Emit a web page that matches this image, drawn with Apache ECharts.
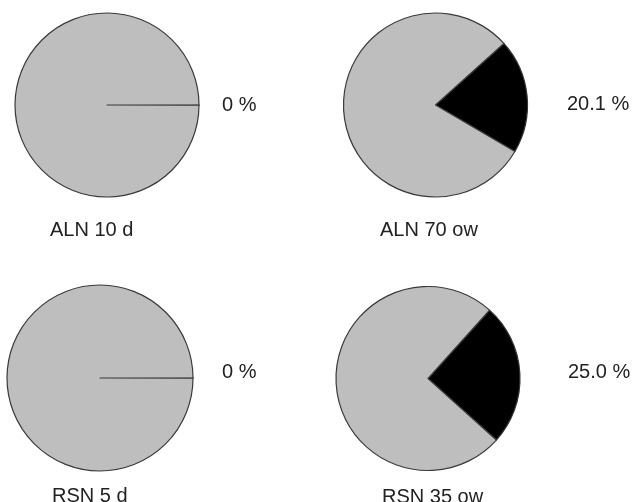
<!DOCTYPE html>
<html>
<head>
<meta charset="utf-8">
<script src="https://cdn.jsdelivr.net/npm/echarts@6/dist/echarts.min.js"></script>
<style>
html,body{margin:0;padding:0;background:#fff;}
#chart{width:635px;height:502px;}
</style>
</head>
<body>
<div id="chart"></div>
<script>
// Data
var groups = ["ALN 10 d", "ALN 70 ow", "RSN 5 d", "RSN 35 ow"];
var percentValues = [0, 20.1, 0, 25.0];
var percentLabels = ["0 %", "20.1 %", "0 %", "25.0 %"];

// Layout (positions/styles only)
var centers = [[107, 105], [435.5, 105], [100, 378], [428, 378.5]];
var radii = [92, 92, 93, 92];
var startAngles = [0, 42, 0, 48];
var groupLabelPos = [[50, 231], [380, 231], [52, 497], [382, 498]];
var pctLabelPos = [[222, 106], [567, 105], [222, 373], [568, 373]];

var FONT = "'Liberation Sans', Arial, sans-serif";
var series = [];
var graphics = [];
for (var i = 0; i < groups.length; i++) {
  series.push({
    type: 'pie',
    center: centers[i],
    radius: [0, radii[i]],
    startAngle: startAngles[i] + (percentValues[i] === 0 ? 0.15 : 0),
    minAngle: 0.3,
    clockwise: true,
    animation: false,
    silent: true,
    label: { show: false },
    labelLine: { show: false },
    emphasis: { disabled: true },
    itemStyle: { borderColor: '#3a3a3a', borderWidth: 1.2 },
    data: [
      { name: 'yes', value: percentValues[i], itemStyle: { color: '#000000', borderColor: '#333' } },
      { name: 'no', value: 100 - percentValues[i], itemStyle: { color: '#bebebe' } }
    ]
  });
  graphics.push({
    type: 'text', left: groupLabelPos[i][0], top: groupLabelPos[i][1] - 11,
    style: { text: groups[i], font: '20px ' + FONT, fill: '#222' }
  });
  graphics.push({
    type: 'text', left: pctLabelPos[i][0], top: pctLabelPos[i][1] - 11,
    style: { text: percentLabels[i], font: '20px ' + FONT, fill: '#222' }
  });
}

var chart = echarts.init(document.getElementById('chart'), null, { renderer: 'canvas' });
chart.setOption({
  backgroundColor: '#ffffff',
  animation: false,
  series: series,
  graphic: graphics
});
</script>
</body>
</html>
